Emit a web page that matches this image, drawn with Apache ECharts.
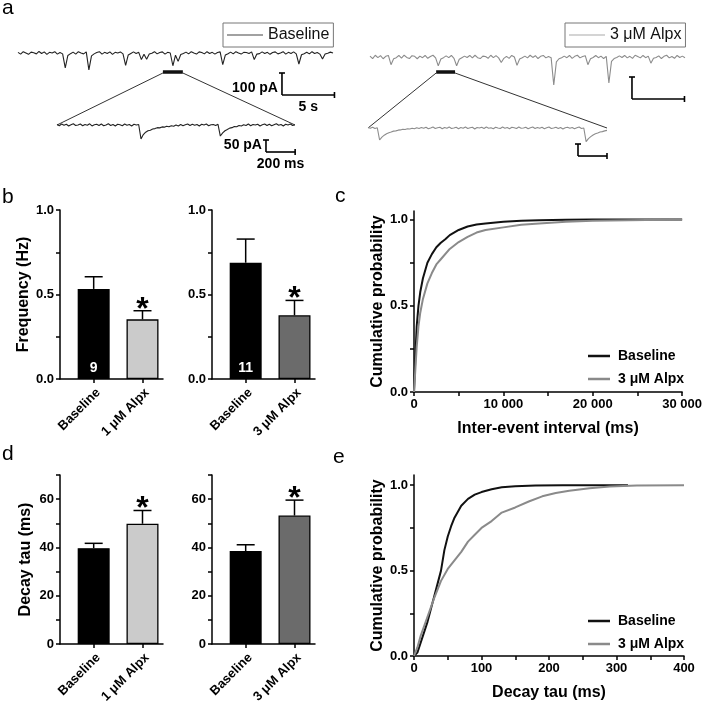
<!DOCTYPE html>
<html>
<head>
<meta charset="utf-8">
<script src="https://cdn.jsdelivr.net/npm/echarts@6/dist/echarts.min.js"></script>
<style>
  html, body { margin: 0; background: #fff; }
  #main { width: 705px; height: 706px; }
</style>
</head>
<body>
<div id="main"></div>
<script>
// ---------- data ----------
// panel a: sEPSC traces, pA, one value per sample
var traceStep = 0.25;   // s per sample, long traces
var insetStep = 16;     // ms per sample, expanded traces
var traceBaseline = [
  3, -5, 6, 0, -6, 4, 1, -4, 7, -2,
  5, -6, 3, 0, 6, -5, 2, -4, -68, -11,
  -3, 4, -5, 6, 0, -4, 5, -77, -13, -4,
  2, 6, -5, 3, -2, 5, -6, 3, 0, 5,
  -4, -56, -9, -2, 5, -2, 3, -30, -6, -28,
  -5, -1, 6, -4, 2, 5, -5, 3, 0, -58,
  -10, -38, -7, -2, 4, -4, 6, 0, -5, 5,
  2, -4, 6, -2, 3, -5, 2, 5, -53, -9,
  -3, 4, -4, 6, 0, -5, 3, 2, -2, 5,
  -30, -5, -3, 5, -2, 3, -6, 2, 5, -4,
  0, 6, -5, 3, -2, 5, -4, -50, -8, -3,
  3, -4, 6, -2, 2, -5, -27, -5, -1, 4,
  0
];
var traceAlpx = [
  4, -7, 8, -3, 6, -8, 3, 7, -35, -8,
  -3, 7, -5, 8, -2, -7, 6, 3, -8, 4,
  -3, 7, -6, 2, 8, -4, -40, -9, -3, 5,
  -3, 7, -6, -40, -10, -3, 4, -2, 7, -4,
  8, -3, -7, 4, 2, -6, 8, -3, 6, -4,
  -25, -6, 3, -6, 7, 0, -38, -9, -3, 4,
  -4, 8, -2, 6, -7, 3, 7, -4, 2, -3,
  -127, -22, -8, -3, 4, -3, 7, -6, 3, 8,
  -4, 2, 6, -35, -8, -2, 7, -3, 4, -7,
  3, -118, -20, -7, -2, 5, -2, 7, -4, 3,
  -6, 8, 2, -4, 7, -3, 4, -28, -6, -2,
  5, -7, 3, 8, -4, 2, -6, 7, -2, 4,
  -3
];
var insetBaseline = [
  2, -3, 4, -1, 3, -4, 1, 5, -2, 0,
  4, -3, 2, -1, 5, -4, 1, 3, -2, 4,
  -3, 0, 5, -2, 2, -4, 3, 1, -3, 4,
  -1, 2, -4, 3, 0, 2, -58, -40, -30, -24,
  -22, -17, -15, -11, -12, -8, -9, -5, -7, -3,
  -5, 0, -4, 2, -3, 1, 4, -2, 3, -1,
  2, -4, 3, 0, 4, -3, 1, 2, -2, 3,
  -46, -33, -24, -19, -13, -11, -6, -7, -2, -4,
  1, -2, 4, -3, 2, 0, 3, -4, 1, 4,
  -2, 3, -3, 1, 5, -1, 2, -4, 3, 0,
  4, -2, 1
];
var insetAlpx = [
  2, -1, 3, -2, 1, -50, -38, -30, -24, -20,
  -17, -13, -12, -9, -8, -5, -6, -3, -4, -1,
  -3, 1, -2, 2, -1, 3, -3, 0, 4, -2,
  1, 3, -3, 2, -1, 4, -2, 0, 3, -3,
  2, -1, 4, -2, 1, 3, -4, 2, 0, 3,
  -2, 4, -1, 1, -3, 3, 0, -2, 4, -1,
  2, -3, 3, 1, -2, 4, -1, 0, 3, -3,
  1, 4, -2, 2, -1, 3, -3, 1, 4, -2,
  0, 3, -2, 2, -4, 1, 3, -1, 2, -3,
  1, 4, -2, 0, -57, -44, -36, -29, -24, -21,
  -17, -15, -12, -10
];

// panels b, d: bar means and SEM
var catsLow = ['Baseline', '1 μM Alpx'];
var catsHigh = ['Baseline', '3 μM Alpx'];
var freqMeanLow = [0.533, 0.353];
var freqSemLow = [0.072, 0.051];
var freqMeanHigh = [0.688, 0.377];
var freqSemHigh = [0.140, 0.088];
var cellCounts = ['9', '11'];
var tauMeanLow = [39.7, 49.8];
var tauSemLow = [2.0, 5.5];
var tauMeanHigh = [38.5, 53.2];
var tauSemHigh = [2.6, 6.4];
var significant = [false, true];

// panel c: cumulative inter-event interval (ms)
var ieiBaseX = [0, 150, 300, 500, 700, 1000, 1500, 2000, 2500, 3000, 3500, 4000, 5000, 6000, 7000, 8000, 10000, 12000, 14000, 17000, 20000, 30000];
var ieiBaseY = [0, 0.2, 0.38, 0.5, 0.58, 0.66, 0.75, 0.8, 0.84, 0.866, 0.886, 0.91, 0.94, 0.96, 0.972, 0.978, 0.987, 0.993, 0.997, 0.999, 1, 1];
var ieiAlpxX = [0, 150, 300, 500, 700, 1000, 1500, 2000, 2500, 3000, 4000, 5000, 6000, 7000, 8000, 10000, 12000, 14000, 17000, 20000, 24000, 30000];
var ieiAlpxY = [0, 0.13, 0.26, 0.38, 0.46, 0.54, 0.63, 0.69, 0.74, 0.77, 0.83, 0.87, 0.9, 0.925, 0.94, 0.955, 0.97, 0.978, 0.987, 0.993, 0.997, 1];

// panel e: cumulative decay tau (ms)
var tauBaseX = [0, 5, 10, 20, 30, 40, 45, 50, 55, 60, 70, 80, 90, 100, 115, 130, 150, 180, 220, 317];
var tauBaseY = [0, 0.02, 0.08, 0.2, 0.35, 0.5, 0.62, 0.7, 0.76, 0.81, 0.88, 0.92, 0.945, 0.96, 0.977, 0.988, 0.994, 0.998, 1, 1];
var tauAlpxX = [0, 5, 10, 20, 30, 40, 50, 60, 70, 80, 90, 100, 115, 130, 150, 170, 190, 210, 230, 260, 290, 330, 400];
var tauAlpxY = [0, 0.05, 0.12, 0.23, 0.34, 0.44, 0.51, 0.56, 0.61, 0.67, 0.71, 0.75, 0.79, 0.84, 0.87, 0.905, 0.935, 0.955, 0.968, 0.982, 0.992, 0.998, 1];

// ---------- styling helpers ----------
var FONT = '"Liberation Sans", Arial, sans-serif';
var BLACK = '#000';
var GRAY_LINE = '#8a8a8a';

function samples(vals, step) {
  return vals.map(function (v, i) { return [i * step, v]; });
}
function zipXY(xs, ys) {
  return xs.map(function (x, i) { return [x, ys[i]]; });
}

var axisLineStyle = { show: true, onZero: false, lineStyle: { color: BLACK, width: 1.5 } };
function ticks(values) {
  return { show: true, length: 4, customValues: values, lineStyle: { color: BLACK, width: 1.5 } };
}
function boldLabel(extra) {
  var o = { color: BLACK, fontFamily: FONT, fontWeight: 'bold', fontSize: 13 };
  for (var k in extra) o[k] = extra[k];
  return o;
}
var nameStyle = { color: BLACK, fontFamily: FONT, fontWeight: 'bold', fontSize: 16 };

function hiddenAxis(grid, min, max) {
  return { type: 'value', gridIndex: grid, min: min, max: max, show: false };
}

function barXAxis(grid, cats) {
  return {
    type: 'value', gridIndex: grid, min: -0.69, max: 1.42,
    axisLine: axisLineStyle,
    axisTick: ticks([0, 1]),
    splitLine: { show: false },
    axisLabel: boldLabel({
      customValues: [0, 1], rotate: 45, margin: 7, verticalAlign: 'top',
      formatter: function (v) { return cats[Math.round(v)]; }
    })
  };
}

function barYAxis(grid, max, tickVals, labelVals, digits, name) {
  return {
    type: 'value', gridIndex: grid, min: 0, max: max,
    axisLine: axisLineStyle,
    axisTick: ticks(tickVals),
    splitLine: { show: false },
    axisLabel: boldLabel({
      customValues: labelVals, margin: 6,
      formatter: function (v) { return v.toFixed(digits); }
    }),
    name: name, nameLocation: 'middle', nameGap: 26, nameTextStyle: nameStyle
  };
}

function barSeries(grid, means, fillColors, labels) {
  return {
    type: 'bar', xAxisIndex: grid, yAxisIndex: grid, barWidth: 32,
    itemStyle: { borderColor: BLACK, borderWidth: 1.3 },
    label: {
      show: true, position: 'insideBottom', distance: 4,
      color: '#fff', fontFamily: FONT, fontWeight: 'bold', fontSize: 14,
      formatter: function (p) { return labels ? (labels[p.dataIndex] || '') : ''; }
    },
    data: means.map(function (m, i) {
      return { value: [i, m], itemStyle: { color: fillColors[i] } };
    })
  };
}

function errorSeries(grid, means, sems) {
  return {
    type: 'custom', xAxisIndex: grid, yAxisIndex: grid,
    encode: { x: 0, y: 1 },
    data: means.map(function (m, i) { return [i, m, sems[i], significant[i] ? 1 : 0]; }),
    renderItem: function (params, api) {
      var x = api.value(0), m = api.value(1), e = api.value(2);
      var p0 = api.coord([x, m]);
      var p1 = api.coord([x, m + e]);
      var kids = [
        { type: 'line', shape: { x1: p0[0], y1: p0[1], x2: p1[0], y2: p1[1] }, style: { stroke: BLACK, lineWidth: 1.5 } },
        { type: 'line', shape: { x1: p1[0] - 9, y1: p1[1], x2: p1[0] + 9, y2: p1[1] }, style: { stroke: BLACK, lineWidth: 1.5 } }
      ];
      if (api.value(3)) {
        kids.push({
          type: 'text',
          style: {
            text: '*', x: p1[0], y: p1[1] - 1, fill: BLACK,
            font: 'bold 32px ' + FONT,
            align: 'center', verticalAlign: 'middle',
            textAlign: 'center', textVerticalAlign: 'middle'
          }
        });
      }
      return { type: 'group', children: kids };
    }
  };
}

function cdfYAxis(grid, max) {
  return {
    type: 'value', gridIndex: grid, min: 0, max: max,
    axisLine: axisLineStyle,
    axisTick: ticks([0, 0.25, 0.5, 0.75, 1]),
    splitLine: { show: false },
    axisLabel: boldLabel({
      customValues: [0, 0.5, 1], margin: 6,
      formatter: function (v) { return v.toFixed(1); }
    }),
    name: 'Cumulative probability', nameLocation: 'middle', nameGap: 28, nameTextStyle: nameStyle
  };
}

function cdfLegend(top) {
  return {
    orient: 'vertical', left: 583, top: top, itemGap: 9,
    icon: 'rect', itemWidth: 22, itemHeight: 2.5, selectedMode: false,
    textStyle: { color: BLACK, fontFamily: FONT, fontWeight: 'bold', fontSize: 14, padding: [0, 0, 0, 3] },
    data: [
      { name: 'Baseline', itemStyle: { color: '#111' } },
      { name: '3 μM Alpx', itemStyle: { color: GRAY_LINE } }
    ]
  };
}

function traceLegend(name, left, color) {
  return {
    left: left, top: 23, padding: [4, 4, 4, 4],
    borderColor: '#777', borderWidth: 1,
    icon: 'rect', itemWidth: 36, itemHeight: 1, selectedMode: false,
    textStyle: { color: '#111', fontFamily: FONT, fontSize: 16 },
    data: [{ name: name, itemStyle: { color: color } }]
  };
}

function lineSeries(grid, name, data, color, width) {
  return {
    type: 'line', name: name, xAxisIndex: grid, yAxisIndex: grid,
    data: data, symbol: 'none', smooth: false, silent: true,
    lineStyle: { color: color, width: width }, itemStyle: { color: color }
  };
}

// ---------- option ----------
var grids = [
  { left: 18, top: 42, width: 315, height: 44 },    // 0 baseline trace
  { left: 57, top: 113, width: 238, height: 36 },   // 1 baseline inset
  { left: 370, top: 46, width: 315, height: 44 },   // 2 alpx trace
  { left: 368, top: 116, width: 239, height: 36 },  // 3 alpx inset
  { left: 60, top: 210, width: 103, height: 169 },  // 4 b left
  { left: 212, top: 210, width: 103, height: 169 }, // 5 b right
  { left: 414, top: 211, width: 270, height: 181 }, // 6 c
  { left: 60, top: 475, width: 103, height: 169 },  // 7 d left
  { left: 212, top: 475, width: 103, height: 169 }, // 8 d right
  { left: 414, top: 475, width: 270, height: 181 }  // 9 e
];

var insetBaseEnd = (insetBaseline.length - 1) * insetStep;
var insetAlpxEnd = (insetAlpx.length - 1) * insetStep;

var option = {
  animation: false,
  backgroundColor: '#fff',
  grid: grids,
  legend: [
    traceLegend('Baseline', 223, '#444'),
    traceLegend('3 μM Alpx', 565, '#aaa'),
    cdfLegend(344),
    cdfLegend(609)
  ],
  xAxis: [
    hiddenAxis(0, 0, 30),
    hiddenAxis(1, 0, insetBaseEnd),
    hiddenAxis(2, 0, 30),
    hiddenAxis(3, 0, insetAlpxEnd),
    barXAxis(4, catsLow),
    barXAxis(5, catsHigh),
    {
      type: 'value', gridIndex: 6, min: 0, max: 30000,
      axisLine: axisLineStyle,
      axisTick: ticks([0, 5000, 10000, 15000, 20000, 25000, 30000]),
      splitLine: { show: false },
      axisLabel: boldLabel({
        customValues: [0, 10000, 20000, 30000], margin: 6,
        formatter: function (v) { return v === 0 ? '0' : (v / 1000) + ' 000'; }
      }),
      name: 'Inter-event interval (ms)', nameLocation: 'middle', nameGap: 29, nameTextStyle: nameStyle
    },
    barXAxis(7, catsLow),
    barXAxis(8, catsHigh),
    {
      type: 'value', gridIndex: 9, min: 0, max: 400,
      axisLine: axisLineStyle,
      axisTick: ticks([0, 50, 100, 150, 200, 250, 300, 350, 400]),
      splitLine: { show: false },
      axisLabel: boldLabel({ customValues: [0, 100, 200, 300, 400], margin: 6 }),
      name: 'Decay tau (ms)', nameLocation: 'middle', nameGap: 29, nameTextStyle: nameStyle
    }
  ],
  yAxis: [
    hiddenAxis(0, -150, 50),
    hiddenAxis(1, -100, 50),
    hiddenAxis(2, -150, 50),
    hiddenAxis(3, -100, 50),
    barYAxis(4, 1, [0, 0.25, 0.5, 0.75, 1], [0, 0.5, 1], 1, 'Frequency (Hz)'),
    barYAxis(5, 1, [0, 0.25, 0.5, 0.75, 1], [0, 0.5, 1], 1, ''),
    cdfYAxis(6, 1.05),
    barYAxis(7, 70, [0, 10, 20, 30, 40, 50, 60, 70], [0, 20, 40, 60], 0, 'Decay tau (ms)'),
    barYAxis(8, 70, [0, 10, 20, 30, 40, 50, 60, 70], [0, 20, 40, 60], 0, ''),
    cdfYAxis(9, 1.06)
  ],
  series: [
    lineSeries(0, 'Baseline', samples(traceBaseline, traceStep), '#222', 1.1),
    lineSeries(1, 'Baseline', samples(insetBaseline, insetStep), '#222', 1.1),
    lineSeries(2, '3 μM Alpx', samples(traceAlpx, traceStep), '#8c8c8c', 1.1),
    lineSeries(3, '3 μM Alpx', samples(insetAlpx, insetStep), '#8c8c8c', 1.1),

    barSeries(4, freqMeanLow, ['#000', '#cbcbcb'], [cellCounts[0]]),
    errorSeries(4, freqMeanLow, freqSemLow),
    barSeries(5, freqMeanHigh, ['#000', '#6b6b6b'], [cellCounts[1]]),
    errorSeries(5, freqMeanHigh, freqSemHigh),

    lineSeries(6, 'Baseline', zipXY(ieiBaseX, ieiBaseY), '#111', 2),
    lineSeries(6, '3 μM Alpx', zipXY(ieiAlpxX, ieiAlpxY), GRAY_LINE, 2),

    barSeries(7, tauMeanLow, ['#000', '#cbcbcb'], null),
    errorSeries(7, tauMeanLow, tauSemLow),
    barSeries(8, tauMeanHigh, ['#000', '#6b6b6b'], null),
    errorSeries(8, tauMeanHigh, tauSemHigh),

    lineSeries(9, 'Baseline', zipXY(tauBaseX, tauBaseY), '#111', 2),
    lineSeries(9, '3 μM Alpx', zipXY(tauAlpxX, tauAlpxY), GRAY_LINE, 2)
  ]
};

var chart = echarts.init(document.getElementById('main'), null, { renderer: 'canvas' });
chart.setOption(option);

// ---------- panel a annotations, placed through the trace axes ----------
// scale bars: corner (t, v) in the trace's own units, lengths dt / dv
var scaleBars = [
  { grid: 0, t: 25.14, v: -190.9, dt: 5, dv: 100, tText: '5 s', vText: '100 pA' },
  { grid: 1, t: 1433, v: -112.5, dt: 200, dv: 50, tText: '200 ms', vText: '50 pA' },
  { grid: 2, t: 24.95, v: -190.9, dt: 5, dv: 100 },
  { grid: 3, t: 1448, v: -116.7, dt: 200, dv: 50 }
];
// expanded stretch of each long trace
var zoomWindows = [
  { grid: 0, t0: 13.8, t1: 15.7, v: -86.4, inset: 1, insetEnd: insetBaseEnd },
  { grid: 2, t0: 6.3, t1: 8.1, v: -68.2, inset: 3, insetEnd: insetAlpxEnd }
];

function toPx(g, pt) { return chart.convertToPixel({ gridIndex: g }, pt); }
var gfx = [];
function seg(a, b, w, c) {
  gfx.push({ type: 'line', silent: true, shape: { x1: a[0], y1: a[1], x2: b[0], y2: b[1] }, style: { stroke: c || BLACK, lineWidth: w } });
}
function txt(s, x, y, align, font, valign) {
  gfx.push({
    type: 'text', silent: true,
    style: {
      text: s, x: x, y: y, fill: BLACK, font: font,
      align: align, verticalAlign: valign || 'middle',
      textAlign: align, textVerticalAlign: valign || 'middle'
    }
  });
}

scaleBars.forEach(function (s) {
  var corner = toPx(s.grid, [s.t, s.v]);
  var top = toPx(s.grid, [s.t, s.v + s.dv]);
  var right = toPx(s.grid, [s.t + s.dt, s.v]);
  seg(corner, top, 1.6);
  seg([top[0] - 3, top[1]], [top[0] + 3, top[1]], 1.6);
  seg(corner, right, 1.6);
  seg([right[0], right[1] - 3], [right[0], right[1] + 3], 1.6);
  if (s.vText) txt(s.vText, corner[0] - 4, corner[1] - 7, 'right', 'bold 14px ' + FONT);
  if (s.tText) txt(s.tText, (corner[0] + right[0]) / 2, corner[1] + 12, 'center', 'bold 14px ' + FONT);
});

zoomWindows.forEach(function (z) {
  var a = toPx(z.grid, [z.t0, z.v]);
  var b = toPx(z.grid, [z.t1, z.v]);
  seg(a, b, 3.5, '#111');
  seg([a[0], a[1] + 1], toPx(z.inset, [0, 0]), 1, '#333');
  seg([b[0], b[1] + 1], toPx(z.inset, [z.insetEnd, 0]), 1, '#333');
});

// panel letters
var letterFont = '21px ' + FONT;
txt('a', 2, 19, 'left', letterFont, 'bottom');
txt('b', 2, 208, 'left', letterFont, 'bottom');
txt('c', 335, 207, 'left', letterFont, 'bottom');
txt('d', 2, 465, 'left', letterFont, 'bottom');
txt('e', 333, 468, 'left', letterFont, 'bottom');

chart.setOption({ graphic: { elements: gfx } });
</script>
</body>
</html>
